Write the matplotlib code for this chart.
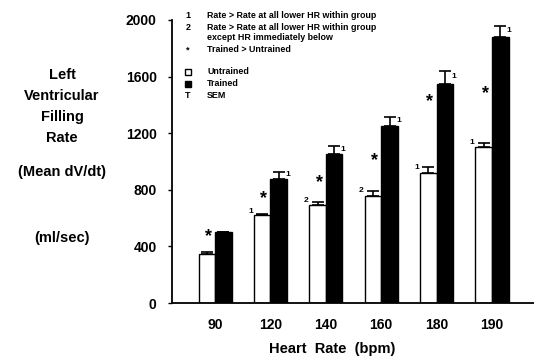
import numpy as np
import matplotlib
matplotlib.use('Agg')
import matplotlib.pyplot as plt

plt.rcParams['font.family'] = ['Liberation Sans', 'DejaVu Sans']
plt.rcParams['font.weight'] = 'bold'

# data
heart_rate = ['90', '120', '140', '160', '180', '190']
untrained = [350, 620, 690, 760, 920, 1100]
untrained_sem = [8, 8, 22, 32, 40, 30]
trained = [500, 880, 1050, 1250, 1550, 1880]
trained_sem = [5, 45, 60, 65, 88, 80]
untrained_marks = ['', '1', '2', '2', '1', '1']
trained_marks = ['', '1', '1', '1', '1', '1']
star_y = [470, 740, 850, 1010, 1420, 1480]

x = np.arange(len(heart_rate))
w = 0.3

fig = plt.figure(figsize=(5.34, 3.57), dpi=100)
ax = fig.add_axes([0.322, 0.151, 0.678, 0.793])

ax.bar(x - w / 2, untrained, w, color='white', edgecolor='black', linewidth=1.0)
ax.bar(x + w / 2, trained, w, color='black', edgecolor='black', linewidth=1.0)
ax.errorbar(x - w / 2, untrained, yerr=[np.zeros(len(x)), untrained_sem], fmt='none',
            ecolor='black', elinewidth=1.2, capsize=4, capthick=1.2)
ax.errorbar(x + w / 2, trained, yerr=[np.zeros(len(x)), trained_sem], fmt='none',
            ecolor='black', elinewidth=1.2, capsize=4, capthick=1.2)

for i in range(len(x)):
    if untrained_marks[i]:
        ax.text(x[i] - w - 0.02, untrained[i] + untrained_sem[i] * 0.3, untrained_marks[i],
                ha='right', va='bottom', fontsize=6)
    if trained_marks[i]:
        ax.text(x[i] + w / 2 + 0.12, trained[i] + trained_sem[i] * 0.6, trained_marks[i],
                ha='left', va='center', fontsize=6)
    ax.text(x[i] - 0.12, star_y[i], '*', ha='center', va='center', fontsize=13)

ax.set_xlim(-0.78, 5.76)
ax.set_ylim(0, 2000)
ax.set_yticks([0, 400, 800, 1200, 1600, 2000])
ax.set_xticks(x)
ax.set_xticklabels(heart_rate)
ax.tick_params(axis='x', length=0, pad=11, labelsize=10)
ax.tick_params(axis='y', direction='out', length=3, width=1, pad=8, labelsize=10)
for s in ['top', 'right']:
    ax.spines[s].set_visible(False)
ax.spines['left'].set_linewidth(1.3)
ax.spines['bottom'].set_linewidth(1.3)

fig.text(332 / 534, 1 - 349 / 357, 'Heart  Rate  (bpm)', ha='center', va='center', fontsize=10.5)

# y label block
ylab = [('Left', 75), ('Ventricular', 96), ('Filling', 117), ('Rate', 138),
        ('(Mean dV/dt)', 172), ('(ml/sec)', 238)]
for t, yp in ylab:
    fig.text(62 / 534, 1 - yp / 357, t, ha='center', va='center', fontsize=10.5)

# key
key = [('1', 'Rate > Rate at all lower HR within group', 15),
       ('2', 'Rate > Rate at all lower HR within group', 27),
       ('', 'except HR immediately below', 38),
       ('*', 'Trained > Untrained', 50),
       ('s', 'Untrained', 72),
       ('f', 'Trained', 84),
       ('T', 'SEM', 96)]
for sym, t, yp in key:
    yy = 1 - yp / 357
    if sym == 's' or sym == 'f':
        fig.add_artist(plt.Line2D([188 / 534], [yy], marker='s', markersize=5,
                                  markerfacecolor='white' if sym == 's' else 'black',
                                  markeredgecolor='black', markeredgewidth=1.0,
                                  transform=fig.transFigure))
    elif sym:
        fig.text(188 / 534, yy, sym, ha='center', va='center', fontsize=6.5)
    fig.text(207 / 534, yy, t, ha='left', va='center', fontsize=6.4)

fig.savefig('out.png', dpi=100)
